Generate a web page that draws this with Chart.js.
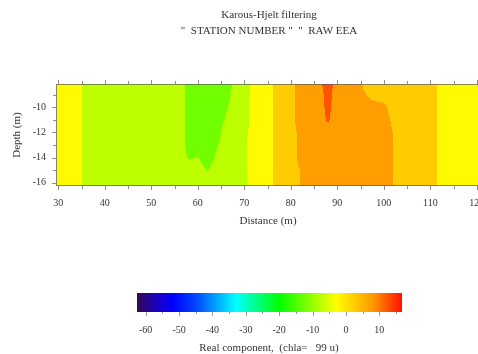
<!DOCTYPE html>
<html>
<head>
<meta charset="utf-8">
<script src="https://cdn.jsdelivr.net/npm/chart.js@4.4.1/dist/chart.umd.min.js"></script>
<style>
  html, body { margin: 0; padding: 0; background: #fff; overflow: hidden; }
  #wrap { position: relative; width: 478px; height: 354px; overflow: hidden; background: #fff; }
  #section { position: absolute; left: 0; top: 0; }
  #scaleBar { position: absolute; left: 0; top: 240px; }
</style>
</head>
<body>
<div id="wrap">
  <canvas id="section" width="500" height="240"></canvas>
  <canvas id="scaleBar" width="478" height="114"></canvas>
</div>
<script>
// Karous-Hjelt filtered section
const titleLines = ['Karous-Hjelt filtering', '"  STATION NUMBER "  "  RAW EEA'];
const xTitle = 'Distance (m)';
const yTitle = 'Depth (m)';
const barTitle = 'Real component,  (chla=   99 u)';

const distances = [28, 30, 32, 34, 36, 38, 40, 42, 44, 46, 48, 50, 52, 54, 56, 58, 60, 62, 64, 66,
  68, 70, 72, 74, 76, 78, 80, 82, 84, 86, 88, 90, 92, 94, 96, 98, 100, 102, 104, 106,
  108, 110, 112, 114, 116, 118, 120, 122, 124];
const depths = [-8, -9, -10, -11, -12, -13, -14, -15, -16, -17];

// one row per depth, one value per distance
const realComponent = [
  [-2.5, -2.5, -2.5, -2.5, -6.85, -7.5, -7.5, -7.5, -7.5, -7.5, -7.5, -7.5, -7.5, -7.5, -7.5, -11.35, -12.5, -12.5, -12.5, -12.5,
   -9.4, -7.5, -3.3, -2.5, -0.3, 2.5, 3.3, 7.5, 7.5, 8.5, 13, 7.5, 7.5, 7.5, 3.3, 2.5, 2.5, 2.5, 2.5, 2.5,
   2.5, 2.5, -1.1, -2.5, -2.5, -2.5, -2.5, -2.5, -2.5],
  [-2.5, -2.5, -2.5, -2.5, -6.85, -7.5, -7.5, -7.5, -7.5, -7.5, -7.5, -7.5, -7.5, -7.5, -7.5, -11.35, -12.5, -12.5, -12.5, -12.5,
   -7.5, -7.5, -3.3, -2.5, -0.3, 2.5, 3.3, 7.5, 7.5, 8, 11.8, 7.5, 7.5, 7.5, 5.3, 2.5, 2.5, 2.5, 2.5, 2.5,
   2.5, 2.5, -1.1, -2.5, -2.5, -2.5, -2.5, -2.5, -2.5],
  [-2.5, -2.5, -2.5, -2.5, -6.85, -7.5, -7.5, -7.5, -7.5, -7.5, -7.5, -7.5, -7.5, -7.5, -7.5, -11.35, -12.5, -12.5, -12.5, -10.6,
   -7.5, -7.5, -2.5, -2.5, -0.3, 2.5, 3.3, 7.5, 7.5, 8, 11.2, 7.5, 7.5, 7.5, 7.5, 7.5, 6.35, 2.5, 2.5, 2.5,
   2.5, 2.5, -1.1, -2.5, -2.5, -2.5, -2.5, -2.5, -2.5],
  [-2.5, -2.5, -2.5, -2.5, -6.85, -7.5, -7.5, -7.5, -7.5, -7.5, -7.5, -7.5, -7.5, -7.5, -7.5, -11.35, -12.5, -12.5, -12.5, -9.6,
   -7.5, -7.5, -2.5, -2.5, -0.3, 2.5, 3.3, 7.5, 7.5, 8, 10.6, 7.5, 7.5, 7.5, 7.5, 7.5, 7.5, 3.9, 2.5, 2.5,
   2.5, 2.5, -1.1, -2.5, -2.5, -2.5, -2.5, -2.5, -2.5],
  [-2.5, -2.5, -2.5, -2.5, -6.85, -7.5, -7.5, -7.5, -7.5, -7.5, -7.5, -7.5, -7.5, -7.5, -7.5, -11.35, -12.5, -12.5, -12.5, -7.5,
   -7.5, -6.7, -2.5, -2.5, -0.3, 2.5, 2.5, 6.35, 7.5, 7.5, 7.5, 7.5, 7.5, 7.5, 7.5, 7.5, 7.5, 4.9, 2.5, 2.5,
   2.5, 2.5, -1.1, -2.5, -2.5, -2.5, -2.5, -2.5, -2.5],
  [-2.5, -2.5, -2.5, -2.5, -6.85, -7.5, -7.5, -7.5, -7.5, -7.5, -7.5, -7.5, -7.5, -7.5, -7.5, -11.35, -12.5, -12.5, -10.4, -7.5,
   -7.5, -5.8, -2.5, -2.5, -0.3, 2.5, 2.5, 6.35, 7.5, 7.5, 7.5, 7.5, 7.5, 7.5, 7.5, 7.5, 7.5, 4.9, 2.5, 2.5,
   2.5, 2.5, -1.1, -2.5, -2.5, -2.5, -2.5, -2.5, -2.5],
  [-2.5, -2.5, -2.5, -2.5, -6.85, -7.5, -7.5, -7.5, -7.5, -7.5, -7.5, -7.5, -7.5, -7.5, -7.5, -10.4, -9.9, -12.5, -9.4, -7.5,
   -7.5, -5.8, -2.5, -2.5, -0.3, 2.5, 2.5, 6.35, 7.5, 7.5, 7.5, 7.5, 7.5, 7.5, 7.5, 7.5, 7.5, 4.9, 2.5, 2.5,
   2.5, 2.5, -1.1, -2.5, -2.5, -2.5, -2.5, -2.5, -2.5],
  [-2.5, -2.5, -2.5, -2.5, -6.85, -7.5, -7.5, -7.5, -7.5, -7.5, -7.5, -7.5, -7.5, -7.5, -7.5, -7.5, -7.5, -10.3, -7.5, -7.5,
   -7.5, -5.8, -2.5, -2.5, -0.3, 2.5, 2.5, 5.1, 7.5, 7.5, 7.5, 7.5, 7.5, 7.5, 7.5, 7.5, 7.5, 4.9, 2.5, 2.5,
   2.5, 2.5, -1.1, -2.5, -2.5, -2.5, -2.5, -2.5, -2.5],
  [-2.5, -2.5, -2.5, -2.5, -6.85, -7.5, -7.5, -7.5, -7.5, -7.5, -7.5, -7.5, -7.5, -7.5, -7.5, -7.5, -7.5, -7.5, -7.5, -7.5,
   -7.5, -5.8, -2.5, -2.5, -0.3, 2.5, 2.5, 5.1, 7.5, 7.5, 7.5, 7.5, 7.5, 7.5, 7.5, 7.5, 7.5, 4.9, 2.5, 2.5,
   2.5, 2.5, -1.1, -2.5, -2.5, -2.5, -2.5, -2.5, -2.5],
  [-2.5, -2.5, -2.5, -2.5, -6.85, -7.5, -7.5, -7.5, -7.5, -7.5, -7.5, -7.5, -7.5, -7.5, -7.5, -7.5, -7.5, -7.5, -7.5, -7.5,
   -7.5, -5.8, -2.5, -2.5, -0.3, 2.5, 2.5, 5.1, 7.5, 7.5, 7.5, 7.5, 7.5, 7.5, 7.5, 7.5, 7.5, 4.9, 2.5, 2.5,
   2.5, 2.5, -1.1, -2.5, -2.5, -2.5, -2.5, -2.5, -2.5]
];

const distanceTicks = [30, 40, 50, 60, 70, 80, 90, 100, 110, 120];
const depthTicks = [-10, -12, -14, -16];
const colorTicks = [-60, -50, -40, -30, -20, -10, 0, 10];
const contourStep = 5;
const colorRange = [-62.6, 16.8];

// palette of the colour bar (value -> rgb)
const colorStops = [
  [-62.6, [48, 10, 80]],
  [-57, [30, 0, 190]],
  [-52, [0, 0, 255]],
  [-45, [0, 70, 255]],
  [-33, [0, 255, 255]],
  [-20, [0, 255, 0]],
  [-3, [255, 255, 0]],
  [8, [255, 153, 0]],
  [16.8, [255, 16, 0]]
];

const FONT = '"Liberation Serif", "DejaVu Serif", serif';
const TEXT = '#333';

function colorAt(v) {
  if (v <= colorStops[0][0]) return colorStops[0][1];
  for (let i = 1; i < colorStops.length; i++) {
    const [v1, c1] = colorStops[i];
    if (v <= v1) {
      const [v0, c0] = colorStops[i - 1];
      const t = (v - v0) / (v1 - v0);
      return c0.map((c, k) => Math.round(c + (c1[k] - c) * t));
    }
  }
  return colorStops[colorStops.length - 1][1];
}

function bandColor(v) {
  const band = Math.floor(v / contourStep);
  return colorAt(band * contourStep + contourStep / 2);
}

function locate(arr, v, descending) {
  const n = arr.length;
  for (let i = 0; i < n - 1; i++) {
    const a = arr[i], b = arr[i + 1];
    const inside = descending ? (v <= a && v >= b) : (v >= a && v <= b);
    if (inside) return [i, (v - a) / (b - a)];
  }
  if (descending ? v > arr[0] : v < arr[0]) return [0, 0];
  return [n - 2, 1];
}

function valueAt(x, d) {
  const [i, tx] = locate(distances, x, false);
  const [j, ty] = locate(depths, d, true);
  const r0 = realComponent[j], r1 = realComponent[j + 1];
  const top = r0[i] + (r0[i + 1] - r0[i]) * tx;
  const bot = r1[i] + (r1[i + 1] - r1[i]) * tx;
  return top + (bot - top) * ty;
}

const sectionPlugin = {
  id: 'section',
  afterDraw(chart) {
    const { ctx, chartArea: a, scales: { x, y } } = chart;
    const left = Math.round(a.left), top = Math.round(a.top);
    const w = Math.round(a.right) - left, h = Math.round(a.bottom) - top;
    const img = ctx.createImageData(w, h);
    for (let r = 0; r < h; r++) {
      const d = y.getValueForPixel(top + r + 0.5);
      for (let c = 0; c < w; c++) {
        const col = bandColor(valueAt(x.getValueForPixel(left + c + 0.5), d));
        const k = (r * w + c) * 4;
        img.data[k] = col[0]; img.data[k + 1] = col[1]; img.data[k + 2] = col[2]; img.data[k + 3] = 255;
      }
    }
    ctx.putImageData(img, left, top);

    ctx.save();
    ctx.strokeStyle = 'rgba(90,90,90,0.7)';
    ctx.lineWidth = 1;
    ctx.strokeRect(left + 0.5, top + 0.5, w - 1, h - 1);

    // tick marks
    ctx.beginPath();
    for (let v = 30; v <= 120; v += 5) {
      const px = Math.round(x.getPixelForValue(v)) + 0.5;
      const len = v % 10 === 0 ? 4 : 3;
      ctx.moveTo(px, top); ctx.lineTo(px, top - len);
      ctx.moveTo(px, top + h); ctx.lineTo(px, top + h + len);
    }
    for (let v = -9; v >= -16; v--) {
      const py = Math.round(y.getPixelForValue(v)) + 0.5;
      const len = v % 2 === 0 ? 4 : 3;
      ctx.moveTo(left, py); ctx.lineTo(left - len, py);
    }
    ctx.stroke();

    ctx.fillStyle = TEXT;
    ctx.font = '10px ' + FONT;
    ctx.textAlign = 'center';
    ctx.textBaseline = 'middle';
    distanceTicks.forEach(v => ctx.fillText(String(v), x.getPixelForValue(v), 203));
    ctx.textAlign = 'right';
    depthTicks.forEach(v => ctx.fillText(String(v), 46, y.getPixelForValue(v)));

    ctx.font = '11px ' + FONT;
    ctx.textAlign = 'center';
    ctx.fillText(xTitle, 268, 221);
    ctx.fillText(titleLines[0], 269, 15);
    ctx.fillText(titleLines[1], 269, 31);

    ctx.translate(17, 135);
    ctx.rotate(-Math.PI / 2);
    ctx.fillText(yTitle, 0, 0);
    ctx.restore();
  }
};

const barPlugin = {
  id: 'colorBar',
  afterDraw(chart) {
    const { ctx, chartArea: a, scales: { x } } = chart;
    const left = Math.round(a.left), right = Math.round(a.right);
    const top = Math.round(a.top), bottom = Math.round(a.bottom);
    for (let px = left; px < right; px++) {
      const col = colorAt(x.getValueForPixel(px + 0.5));
      ctx.fillStyle = `rgb(${col[0]},${col[1]},${col[2]})`;
      ctx.fillRect(px, top, 1, bottom - top);
    }
    ctx.save();
    ctx.strokeStyle = 'rgba(90,90,90,0.6)';
    ctx.beginPath();
    for (let v = -60; v <= 15; v += 5) {
      const px = Math.round(x.getPixelForValue(v)) + 0.5;
      ctx.moveTo(px, bottom); ctx.lineTo(px, bottom + (v % 10 === 0 ? 4 : 2));
    }
    ctx.stroke();
    ctx.fillStyle = TEXT;
    ctx.font = '10px ' + FONT;
    ctx.textAlign = 'center';
    ctx.textBaseline = 'middle';
    colorTicks.forEach(v => ctx.fillText(String(v), x.getPixelForValue(v), 90));
    ctx.font = '11px ' + FONT;
    ctx.fillText(barTitle, 269, 108);
    ctx.restore();
  }
};

new Chart(document.getElementById('section'), {
  type: 'scatter',
  data: { datasets: [{ data: [] }] },
  options: {
    responsive: false,
    animation: false,
    layout: { padding: { left: 56, right: 19, top: 84, bottom: 54 } },
    plugins: { legend: { display: false }, tooltip: { enabled: false } },
    scales: {
      x: { type: 'linear', display: false, min: 29.5, max: 120.9 },
      y: { type: 'linear', display: false, min: -16.25, max: -8.15 }
    }
  },
  plugins: [sectionPlugin]
});

new Chart(document.getElementById('scaleBar'), {
  type: 'scatter',
  data: { datasets: [{ data: [] }] },
  options: {
    responsive: false,
    animation: false,
    layout: { padding: { left: 137, right: 76, top: 53, bottom: 42 } },
    plugins: { legend: { display: false }, tooltip: { enabled: false } },
    scales: {
      x: { type: 'linear', display: false, min: colorRange[0], max: colorRange[1] },
      y: { type: 'linear', display: false, min: 0, max: 1 }
    }
  },
  plugins: [barPlugin]
});
</script>
</body>
</html>
